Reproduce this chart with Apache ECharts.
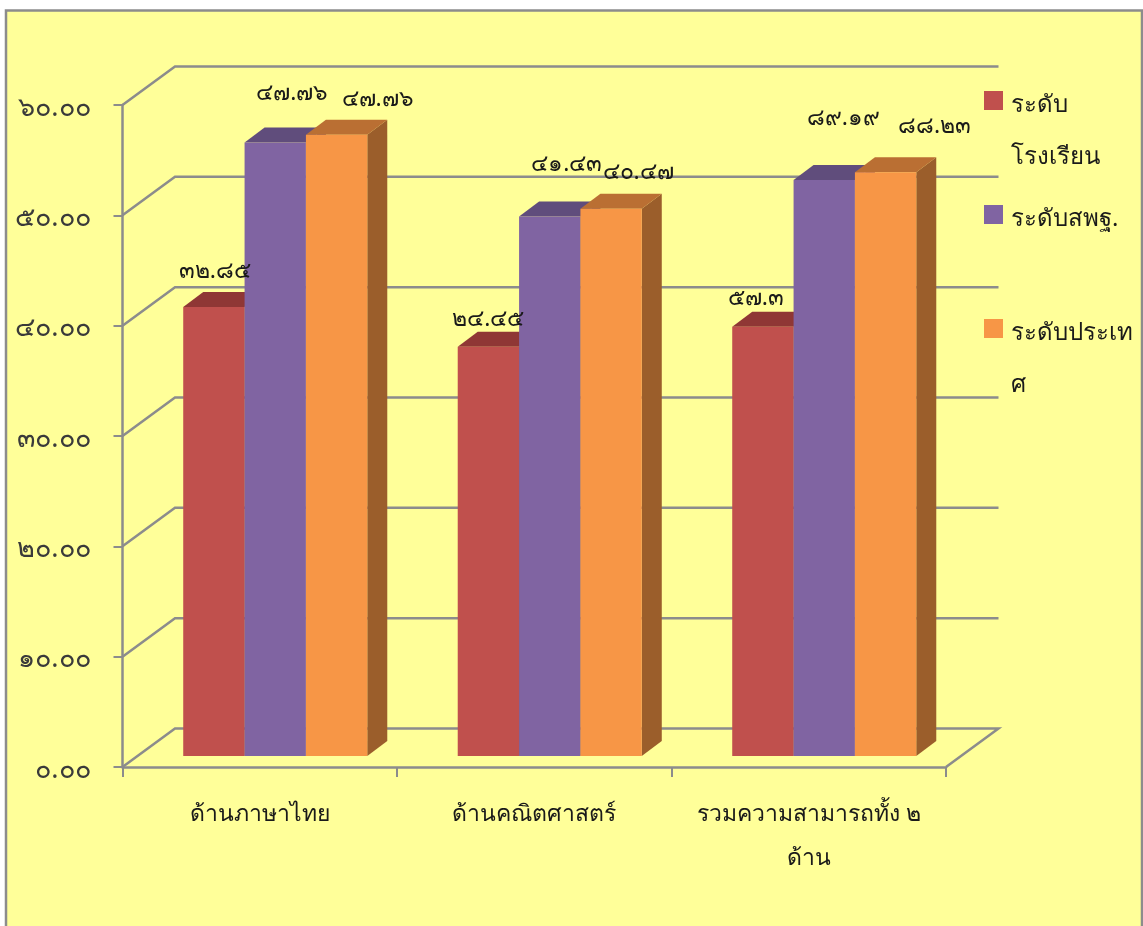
<!DOCTYPE html>
<html><head><meta charset="utf-8">
<style>html,body{margin:0;padding:0;background:#fff;overflow:hidden}#c{width:1143px;height:926px}</style>
<script src="https://cdn.jsdelivr.net/npm/echarts@6/dist/echarts.min.js"></script></head>
<body><div id="c"></div>
<script>
const categories = ['ด้านภาษาไทย', 'ด้านคณิตศาสตร์', 'รวมความสามารถทั้ง ๒\nด้าน'];
const seriesNames = ['ระดับโรงเรียน', 'ระดับสพฐ.', 'ระดับประเทศ'];
const legendLines = [['ระดับ','โรงเรียน'], ['ระดับสพฐ.'], ['ระดับประเท','ศ']];
const school = [40.7, 37.1, 38.9];
const obec = [55.6, 48.9, 52.2];
const country = [56.3, 49.6, 52.9];
const schoolText = ['๓๒.๘๕', '๒๔.๔๕', '๕๗.๓'];
const obecText = ['๔๗.๗๖', '๔๑.๔๓', '๘๙.๑๙'];
const countryText = ['๔๗.๗๖', '๔๐.๔๗', '๘๘.๒๓'];
const yTicks = [0, 10, 20, 30, 40, 50, 60];
const yTickLabels = {0:'๐.๐๐',10:'๑๐.๐๐',20:'๒๐.๐๐',30:'๓๐.๐๐',40:'๔๐.๐๐',50:'๕๐.๐๐',60:'๖๐.๐๐'};

// styling / layout tables
const FONT = '"Noto Sans","DejaVu Sans","Liberation Sans",sans-serif';
const WALL = [52.5, -38.5], BAR_SHIFT = [15.5, -11], BAR_DEPTH = [20, -15], BAR_RATIO = 0.2235;
const GREY = '#8c8c8c', INK = '#1a1a1a';
const faces = [
 {front:'#C0504D', top:'#8F3735', side:'#7F3532'},
 {front:'#8064A2', top:'#604D7C', side:'#544170'},
 {front:'#F79646', top:'#BA6F33', side:'#9B5E2B'}
];
const labelNudge = [
 [[1,-35],[0,-27],[-7,-28]],
 [[17,-49],[17,-52],[19,-62]],
 [[41,-35],[27,-36],[49,-46]]
];
const legendMarkerY = [100.5, 214.5, 328.5];
const LEGEND_LINE = 52;

function poly(points, fill){ return {type:'polygon', shape:{points}, style:{fill, stroke:null}, silent:true}; }
function barLeft(p, w, s){ return p[0] + BAR_SHIFT[0] + (s-1.5)*w; }

function barSeries(name, values, s){
  return {
    type:'custom', name, clip:false, z:3+s,
    itemStyle:{color:faces[s].front},
    data: values.map((v,i)=>[i,v]),
    encode:{x:0,y:1},
    renderItem(params, api){
      const w = api.size([1,0])[0]*BAR_RATIO;
      const p = api.coord([api.value(0), api.value(1)]), b = api.coord([api.value(0), 0]);
      const xl = barLeft(p,w,s), xr = xl + w;
      const yt = p[1] + BAR_SHIFT[1], yb = b[1] + BAR_SHIFT[1];
      const [dx,dy] = BAR_DEPTH;
      return {type:'group', children:[
        poly([[xr,yt],[xr+dx,yt+dy],[xr+dx,yb+dy],[xr,yb]], faces[s].side),
        poly([[xl,yt],[xr,yt],[xr+dx,yt+dy],[xl+dx,yt+dy]], faces[s].top),
        poly([[xl,yt],[xr,yt],[xr,yb],[xl,yb]], faces[s].front)
      ]};
    }
  };
}
function labelSeries(values, texts, s){
  return {
    type:'custom', clip:false, z:10, silent:true,
    data: values.map((v,i)=>[i,v]),
    encode:{x:0,y:1},
    renderItem(params, api){
      const w = api.size([1,0])[0]*BAR_RATIO;
      const p = api.coord([api.value(0), api.value(1)]);
      const n = labelNudge[s][params.dataIndex];
      return {type:'text', x:barLeft(p,w,s)+w/2+n[0], y:p[1]+BAR_SHIFT[1]+n[1],
        style:{text:texts[params.dataIndex], font:'23px '+FONT, fill:INK, align:'center', verticalAlign:'middle'}};
    }
  };
}

const wallSeries = {
  type:'custom', clip:false, z:1, silent:true,
  data: yTicks.map(v=>[0,v]),
  encode:{y:1},
  renderItem(params, api){
    const band = api.size([1,0])[0], v = api.value(1);
    const a = api.coord([0,v]), z = api.coord([categories.length-1,v]);
    const x0 = a[0]-band/2, x1 = z[0]+band/2, y = a[1];
    const pts = [[x0,y],[x0+WALL[0],y+WALL[1]],[x1+WALL[0],y+WALL[1]]];
    if(v===0) pts.push([x1,y]);
    return {type:'polyline', shape:{points:pts}, style:{stroke:GREY, lineWidth:2.5, fill:null}};
  }
};

const chart = echarts.init(document.getElementById('c'), null, {renderer:'canvas'});
chart.setOption({
  animation:false,
  textStyle:{fontFamily:FONT},
  graphic:[{type:'rect', z:-10, shape:{x:6,y:10.5,width:1136,height:940},
    style:{fill:'#FFFF99', stroke:GREY, lineWidth:2.5}, silent:true}],
  grid:{left:122.5, top:105, width:823.5, height:662, containLabel:false},
  legend: seriesNames.map((n,i)=>{
    const two = legendLines[i].length>1;
    return {
      data:[n], orient:'vertical', left:984,
      top: legendMarkerY[i] - (two ? 1.5*LEGEND_LINE : 0.5*LEGEND_LINE),
      icon:'rect', itemWidth:19, itemHeight:19, itemGap:0, padding:0, selectedMode:false,
      formatter:()=>(two?'\n':'')+legendLines[i].map(t=>'{t|'+t+'}').join('\n'),
      textStyle:{fontFamily:FONT, fontSize:24, color:INK, lineHeight:LEGEND_LINE,
        rich:{t:{fontFamily:FONT, fontSize:24, color:INK, lineHeight:LEGEND_LINE, padding:[10,0,0,3]}}}
    };
  }),
  xAxis:{type:'category', data:categories,
    axisLine:{lineStyle:{color:GREY,width:2.5}},
    axisTick:{show:true,length:10,lineStyle:{color:GREY,width:2},alignWithLabel:false},
    axisLabel:{fontFamily:FONT,fontSize:23,color:INK,lineHeight:44,margin:25,interval:0},
    splitLine:{show:false}},
  yAxis:{type:'value', min:0, max:60, interval:10,
    axisLine:{show:true,lineStyle:{color:GREY,width:2.5}},
    axisTick:{show:true,length:9,lineStyle:{color:GREY,width:2}},
    axisLabel:{margin:32,formatter:v=>'{t|'+yTickLabels[v]+'}',
      rich:{t:{fontFamily:FONT,fontSize:27,color:'#3a3a3a',padding:[6,0,0,0]}}},
    splitLine:{show:false}},
  series:[wallSeries,
    barSeries(seriesNames[0],school,0), barSeries(seriesNames[1],obec,1), barSeries(seriesNames[2],country,2),
    labelSeries(school,schoolText,0), labelSeries(obec,obecText,1), labelSeries(country,countryText,2)]
});
</script></body></html>
